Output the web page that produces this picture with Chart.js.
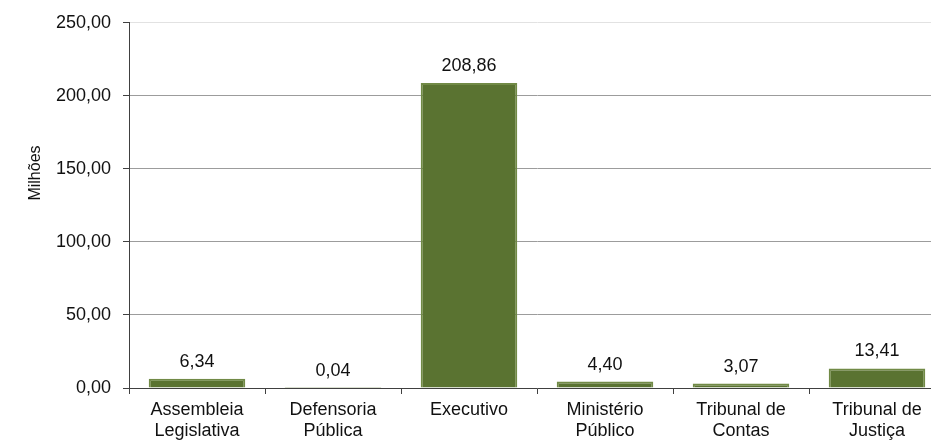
<!DOCTYPE html>
<html lang="pt-BR">
<head>
    <meta charset="UTF-8">
    <title>Despesas por Poder</title>
    <script src="https://cdn.jsdelivr.net/npm/chart.js@4.4.1/dist/chart.umd.min.js"></script>
    <style>
        body {
            margin: 0;
            padding: 0;
            background: #fff;
            overflow: hidden;
        }
        #chartContainer {
            width: 945px;
            height: 440px;
        }
    </style>
</head>
<body>
    <div id="chartContainer">
        <canvas id="poderesChart"></canvas>
    </div>

    <script>
        // Valores em milhões
        const categorias = [
            ['Assembleia', 'Legislativa'],
            ['Defensoria', 'Pública'],
            'Executivo',
            ['Ministério', 'Público'],
            ['Tribunal de', 'Contas'],
            ['Tribunal de', 'Justiça']
        ];
        const valores = [6.34, 0.04, 208.86, 4.40, 3.07, 13.41];
        const eixoMin = 0;
        const eixoMax = 250;
        const eixoPasso = 50;
        const tituloEixo = 'Milhões';

        const fonte = "'Liberation Sans', Arial, sans-serif";

        function formatar(v) {
            return v.toFixed(2).replace('.', ',');
        }

        // rótulos com o valor acima de cada barra + título vertical do eixo
        const rotulosBarras = {
            id: 'rotulosBarras',
            afterDatasetsDraw(chart) {
                const ctx = chart.ctx;
                const meta = chart.getDatasetMeta(0);
                ctx.save();
                ctx.font = '18px ' + fonte;
                ctx.fillStyle = '#111';
                ctx.textAlign = 'center';
                ctx.textBaseline = 'alphabetic';
                meta.data.forEach((bar, i) => {
                    ctx.fillText(formatar(valores[i]), bar.x, bar.y - 12);
                });

                ctx.translate(36, 173);
                ctx.rotate(-Math.PI / 2);
                ctx.font = '16px ' + fonte;
                ctx.textBaseline = 'middle';
                ctx.fillText(tituloEixo, 0, 0);
                ctx.restore();
            }
        };

        const ctx = document.getElementById('poderesChart').getContext('2d');
        new Chart(ctx, {
            type: 'bar',
            data: {
                labels: categorias,
                datasets: [{
                    data: valores,
                    backgroundColor: '#5a7331',
                    borderColor: '#718a46',
                    borderWidth: { top: 2, left: 2, right: 2, bottom: 0 },
                    borderSkipped: false,
                    barPercentage: 0.71,
                    categoryPercentage: 1.0
                }]
            },
            options: {
                responsive: true,
                maintainAspectRatio: false,
                animation: false,
                layout: {
                    padding: { top: 10, right: 0, bottom: 0, left: 0 }
                },
                plugins: {
                    legend: { display: false },
                    tooltip: { enabled: false }
                },
                scales: {
                    x: {
                        grid: {
                            offset: true,
                            drawOnChartArea: false,
                            tickLength: 6,
                            tickColor: '#404040'
                        },
                        border: { color: '#404040', width: 1 },
                        ticks: {
                            color: '#111',
                            font: { family: fonte, size: 18 },
                            padding: 5,
                            maxRotation: 0,
                            autoSkip: false
                        },
                        afterFit(scale) {
                            scale.height = 52;
                        }
                    },
                    y: {
                        min: eixoMin,
                        max: eixoMax,
                        ticks: {
                            stepSize: eixoPasso,
                            color: '#111',
                            font: { family: fonte, size: 18 },
                            padding: 12,
                            callback: v => formatar(v)
                        },
                        grid: {
                            color: c => c.tick && c.tick.value === eixoMax ? '#e2e2e2' : '#9c9c9c',
                            tickLength: 6,
                            tickColor: '#404040'
                        },
                        border: { color: '#404040', width: 1 },
                        afterFit(scale) {
                            scale.width = 129;
                        }
                    }
                }
            },
            plugins: [rotulosBarras]
        });
    </script>
</body>
</html>
